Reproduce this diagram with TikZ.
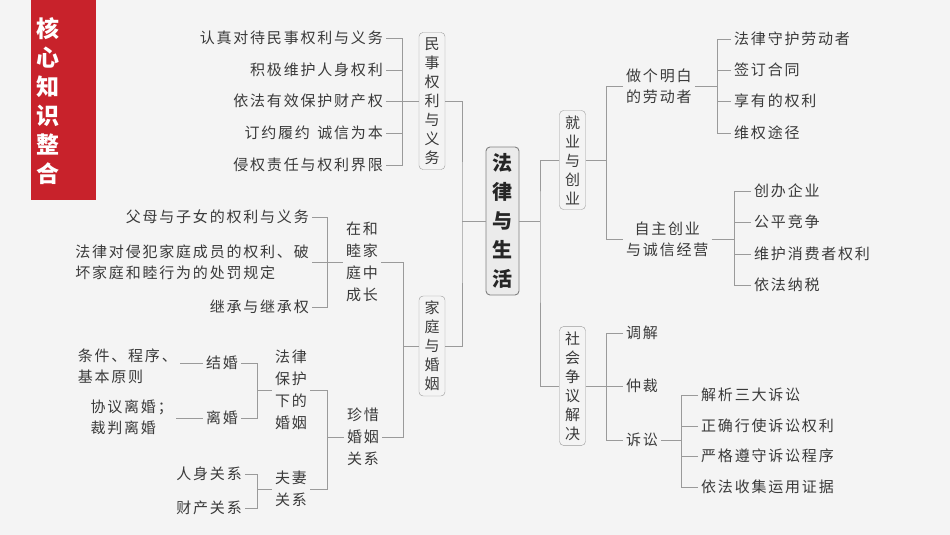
\documentclass[tikz,border=0pt]{standalone}
\usepackage{fontspec}
\newfontfamily\cjk[LetterSpace=12]{Noto Sans CJK SC}
\newfontfamily\cjkb{Noto Sans CJK SC}
\definecolor{txt}{HTML}{3A3A3A}
\definecolor{ln}{HTML}{9A9A9A}
\definecolor{bg}{HTML}{F4F4F4}
\definecolor{redb}{HTML}{C8222B}
\tikzset{
 t/.style={font=\cjk\fontsize{15}{21}\selectfont, text=txt, inner xsep=3pt, inner ysep=0pt, align=center},
 tl/.style={t, align=left},
 vbox/.style={draw=ln, rounded corners=4pt, font=\cjk\fontsize{15}{19}\selectfont, text=txt, inner xsep=4pt, inner ysep=5pt, align=center, minimum width=26},
 lnk/.style={draw=ln, line width=0.7pt},
}
\begin{document}
\begin{tikzpicture}[x=1pt,y=-1pt]
\fill[bg] (0,0) rectangle (950,535);
\useasboundingbox (0,0) rectangle (950,535);
% title
\fill[redb] (31,0) rectangle (96,200);
\node[font=\cjkb\bfseries\fontsize{23}{29}\selectfont, text=white, align=center, inner sep=0] (title) at (48,101) {核\\心\\知\\识\\整\\合};
% center
\node[draw=gray, fill=black!8, line width=0.9pt, rounded corners=4pt, font=\cjkb\bfseries\fontsize{20}{29}\selectfont, text=black!85, align=center, minimum width=33, minimum height=148, inner sep=3pt] (c) at (502.5,221) {法\\律\\与\\生\\活};
% level 1
\node[vbox] (ms) at (432,101) {民\\事\\权\\利\\与\\义\\务};
\node[vbox] (jt) at (432,346) {家\\庭\\与\\婚\\姻};
\node[vbox] (jy) at (572.5,160) {就\\业\\与\\创\\业};
\node[vbox] (sh) at (572.5,386) {社\\会\\争\\议\\解\\决};
\coordinate (tlc) at (462,221);
\coordinate (trc) at (540,221);
\draw[lnk] (c.west) -- (tlc);
\draw[lnk] (ms.east) -| (tlc) |- (jt.east);
\draw[lnk] (c.east) -- (trc);
\draw[lnk] (jy.west) -| (trc) |- (sh.west);
% 民事 leaves
\node[t, anchor=east] (m1) at (386,38) {认真对待民事权利与义务};
\node[t, anchor=east] (m2) at (386,70) {积极维护人身权利};
\node[t, anchor=east] (m3) at (386,101) {依法有效保护财产权};
\node[t, anchor=east] (m4) at (386,133) {订约履约\hspace{0.5em}诚信为本};
\node[t, anchor=east] (m5) at (386,165) {侵权责任与权利界限};
\coordinate (bm) at (402,0);
\draw[lnk] (m1.east) -- (m1.east -| bm) |- (m5.east);
\foreach \n in {m2,m3,m4} \draw[lnk] (\n.east) -- (\n.east -| bm);
\draw[lnk] (ms.west) -- (ms.west -| bm);
% 家庭与婚姻
\coordinate (bj) at (403,0);
\node[t, font=\cjk\fontsize{15}{22}\selectfont] (zx) at (362,262) {在和\\睦家\\庭中\\成长};
\node[t, font=\cjk\fontsize{15}{22}\selectfont] (ze) at (363,437) {珍惜\\婚姻\\关系};
\draw[lnk] (zx.east) -- (zx.east -| bj) |- (ze.east);
\draw[lnk] (jt.west) -- (jt.west -| bj);
\coordinate (bz) at (327,0);
\node[t, anchor=east] (f1) at (312,217) {父母与子女的权利与义务};
\node[tl, anchor=east] (f2) at (312,262) {法律对侵犯家庭成员的权利、破\\坏家庭和睦行为的处罚规定};
\node[t, anchor=east] (f3) at (312,307) {继承与继承权};
\draw[lnk] (f1.east) -- (f1.east -| bz) |- (f3.east);
\draw[lnk] (f2.east) -- (f2.east -| bz);
\draw[lnk] (zx.west) -- (zx.west -| bz);
\node[t, font=\cjk\fontsize{15}{22}\selectfont] (fl) at (291,390) {法律\\保护\\下的\\婚姻};
\node[t, font=\cjk\fontsize{15}{22}\selectfont] (fq) at (291,489) {夫妻\\关系};
\draw[lnk] (fl.east) -- (fl.east -| bz) |- (fq.east);
\draw[lnk] (ze.west) -- (ze.west -| bz);
\coordinate (bf) at (257,0);
\node[t] (jh) at (222,363) {结婚};
\node[t] (lh) at (222,418) {离婚};
\draw[lnk] (jh.east) -- (jh.east -| bf) |- (lh.east);
\draw[lnk] (fl.west) -- (fl.west -| bf);
\node[tl, anchor=east] (tj) at (180,366) {条件、程序、\\基本原则};
\node[tl, anchor=east] (xy) at (176,417) {协议离婚；\\裁判离婚};
\draw[lnk] (jh.west) -- (jh.west -| tj.east);
\draw[lnk] (lh.west) -- (lh.west -| xy.east);
\node[t, anchor=east] (rs) at (245,474) {人身关系};
\node[t, anchor=east] (cc) at (245,508) {财产关系};
\draw[lnk] (rs.east) -- (rs.east -| bf) |- (cc.east);
\draw[lnk] (fq.west) -- (fq.west -| bf);
% 就业与创业
\coordinate (br) at (606,0);
\node[tl, anchor=west] (zg) at (623,86) {做个明白\\的劳动者};
\node[t, anchor=west] (zz) at (623,239) {自主创业\\与诚信经营};
\draw[lnk] (zg.west) -- (zg.west -| br) |- (zz.west);
\draw[lnk] (jy.east) -- (jy.east -| br);
\coordinate (bg1) at (717,0);
\node[t, anchor=west] (g1) at (731,39) {法律守护劳动者};
\node[t, anchor=west] (g2) at (731,70) {签订合同};
\node[t, anchor=west] (g3) at (731,101) {享有的权利};
\node[t, anchor=west] (g4) at (731,133) {维权途径};
\draw[lnk] (g1.west) -- (g1.west -| bg1) |- (g4.west);
\draw[lnk] (g2.west) -- (g2.west -| bg1);
\draw[lnk] (g3.west) -- (g3.west -| bg1);
\draw[lnk] (zg.east) -- (zg.east -| bg1);
\coordinate (bg2) at (734,0);
\node[t, anchor=west] (z1) at (751,191) {创办企业};
\node[t, anchor=west] (z2) at (751,222) {公平竞争};
\node[t, anchor=west] (z3) at (751,254) {维护消费者权利};
\node[t, anchor=west] (z4) at (751,285) {依法纳税};
\draw[lnk] (z1.west) -- (z1.west -| bg2) |- (z4.west);
\draw[lnk] (z2.west) -- (z2.west -| bg2);
\draw[lnk] (z3.west) -- (z3.west -| bg2);
\draw[lnk] (zz.east) -- (zz.east -| bg2);
% 社会争议解决
\node[t, anchor=west] (s1) at (623,333) {调解};
\node[t, anchor=west] (s2) at (623,386) {仲裁};
\node[t, anchor=west] (s3) at (623,440) {诉讼};
\draw[lnk] (s1.west) -- (s1.west -| br) |- (s3.west);
\draw[lnk] (sh.east) -- (s2.west);
\coordinate (bs) at (681,0);
\node[t, anchor=west] (v1) at (698,395) {解析三大诉讼};
\node[t, anchor=west] (v2) at (698,426) {正确行使诉讼权利};
\node[t, anchor=west] (v3) at (698,456) {严格遵守诉讼程序};
\node[t, anchor=west] (v4) at (698,487) {依法收集运用证据};
\draw[lnk] (v1.west) -- (v1.west -| bs) |- (v4.west);
\draw[lnk] (v2.west) -- (v2.west -| bs);
\draw[lnk] (v3.west) -- (v3.west -| bs);
\draw[lnk] (s3.east) -- (s3.east -| bs);
\end{tikzpicture}
\end{document}
